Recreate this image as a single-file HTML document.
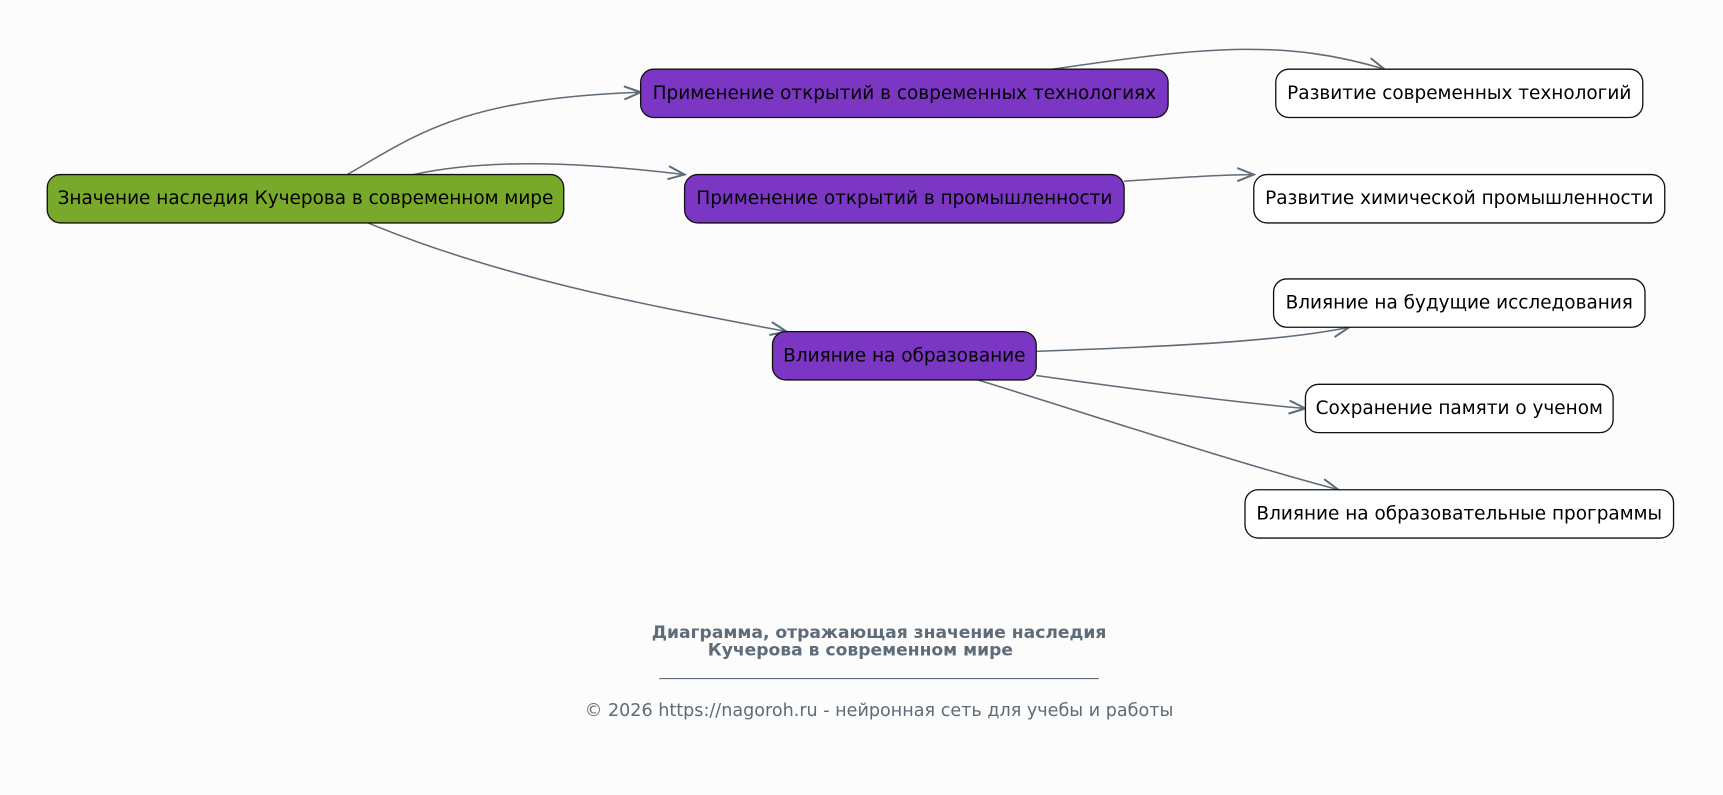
<!DOCTYPE html>
<html><head><meta charset="utf-8"><style>
html,body{margin:0;padding:0;background:#fcfcfc;}
svg{display:block;}
text{font-family:"DejaVu Sans","Liberation Sans",sans-serif;}
</style></head><body>
<svg width="1723" height="795" viewBox="0 0 1568 724" preserveAspectRatio="none" xmlns="http://www.w3.org/2000/svg">
<defs>
<marker id="a" markerWidth="20" markerHeight="14" refX="18" refY="7" orient="auto" markerUnits="userSpaceOnUse">
<path d="M3,1 L18,7 L3,13" fill="none" stroke="#5e6b78" stroke-width="1.8"/>
</marker>
</defs>
<rect width="1568" height="724" fill="#fcfcfc"/>
<g fill="none" stroke="#5e6b78" stroke-width="1.4" marker-end="url(#a)">
<path d="M316,159 C380,122 420,90 583,84"/>
<path d="M376,159 C450,143 540,149 623,159"/>
<path d="M335,203 C460,255 600,280 716,302"/>
<path d="M958,63 C1100,42 1170,36 1260,63"/>
<path d="M1023,165 C1070,162 1110,159 1141,159"/>
<path d="M943,320 C1080,315 1170,310 1228,298"/>
<path d="M943,342 C1050,357 1130,367 1188,372"/>
<path d="M890,346 C1000,380 1120,420 1218,446"/>
</g>
<g stroke="#111" stroke-width="1.2">
<rect x="43" y="159" width="470" height="44" rx="12" fill="#78a92b"/>
<rect x="583" y="63" width="480" height="44" rx="12" fill="#7b36c4"/>
<rect x="623" y="159" width="400" height="44" rx="12" fill="#7b36c4"/>
<rect x="703" y="302" width="240" height="44" rx="12" fill="#7b36c4"/>
<rect x="1161" y="63" width="334" height="44" rx="12" fill="#fff"/>
<rect x="1141" y="159" width="374" height="44" rx="12" fill="#fff"/>
<rect x="1159" y="254" width="338" height="44" rx="12" fill="#fff"/>
<rect x="1188" y="350" width="280" height="44" rx="12" fill="#fff"/>
<rect x="1133" y="446" width="390" height="44" rx="12" fill="#fff"/>
</g>
<g font-size="16.8" fill="#000" text-anchor="middle">
<text x="278" y="186">Значение наследия Кучерова в современном мире</text>
<text x="823" y="90">Применение открытий в современных технологиях</text>
<text x="823" y="186">Применение открытий в промышленности</text>
<text x="823" y="329">Влияние на образование</text>
<text x="1328" y="90">Развитие современных технологий</text>
<text x="1328" y="186">Развитие химической промышленности</text>
<text x="1328" y="281">Влияние на будущие исследования</text>
<text x="1328" y="377">Сохранение памяти о ученом</text>
<text x="1328" y="473">Влияние на образовательные программы</text>
</g>
<g fill="#5e6b78" text-anchor="middle">
<text x="800" y="581" font-size="15.6" font-weight="bold">Диаграмма, отражающая значение наследия</text>
<text x="783" y="597" font-size="15.6" font-weight="bold">Кучерова в современном мире</text>
<line x1="600" y1="618" x2="1000" y2="618" stroke="#5e6b78" stroke-width="1"/>
<text x="800" y="652" font-size="16">© 2026 https://nagoroh.ru - нейронная сеть для учебы и работы</text>
</g>
</svg>
</body></html>
